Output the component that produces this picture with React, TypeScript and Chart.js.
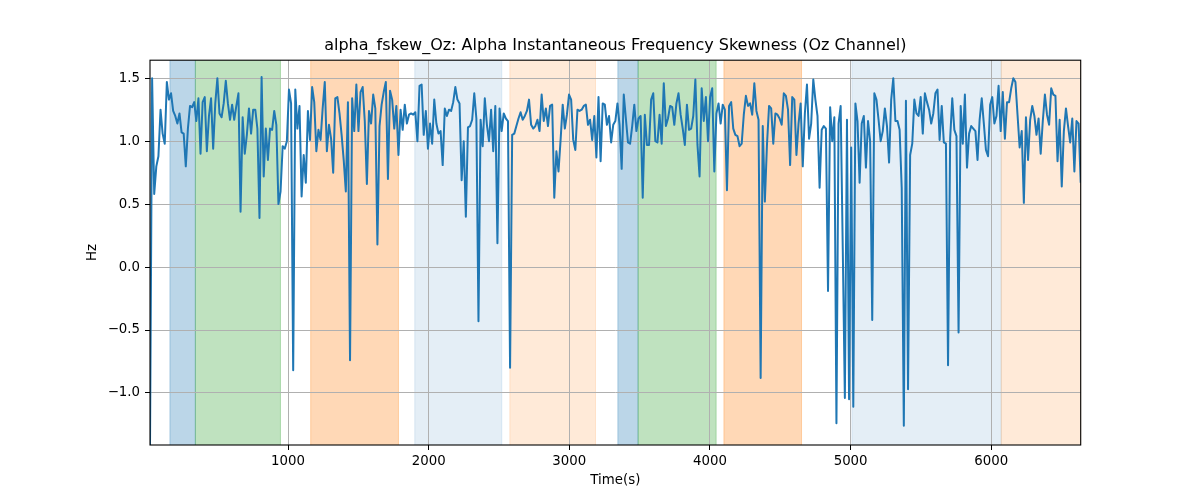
import React, { useEffect, useRef } from 'react';
import { Chart, registerables } from 'chart.js';

Chart.register(...registerables);

const TITLE = 'alpha_fskew_Oz: Alpha Instantaneous Frequency Skewness (Oz Channel)';
const X_LABEL = 'Time(s)';
const Y_LABEL = 'Hz';

// Regularly sampled series: first and last sample times
const T_START = 18.5;
const T_END = 6636;

const VALUES = [
  -1.45, 1.5, 0.58, 0.8, 0.88, 1.25, 1.06, 0.98, 1.47, 1.33,
  1.38, 1.24, 1.2, 1.14, 1.22, 1.07, 1.06, 0.8, 1.1, 1.28,
  1.27, 1.31, 1.16, 1.34, 0.9, 1.31, 1.35, 0.92, 1.2, 1.34,
  0.94, 1.3, 1.5, 1.22, 1.19, 1.3, 1.48, 1.3, 1.17, 1.29,
  1.17, 1.28, 1.38, 0.44, 1.19, 0.9, 1.05, 1.26, 1.06, 1.25,
  1.25, 1.1, 0.39, 1.51, 0.72, 1.1, 0.85, 1.1, 1.09, 1.24,
  1.13, 0.5, 0.6, 0.96, 0.94, 1.0, 1.41, 1.3, -0.82, 1.41,
  1.1, 1.28,
  0.56, 0.89, 0.67, 1.24, 1.01, 1.43, 1.31, 0.92, 1.09, 1.01,
  1.26, 1.47, 0.92, 1.13, 1.02, 0.75, 1.34, 1.35,
  1.22, 1.05, 0.85, 0.6, 1.31, -0.74, 1.34, 1.08, 1.45, 1.08,
  1.39, 1.43, 1.16, 0.66, 1.24, 1.14, 1.37, 1.26, 0.18, 1.12,
  1.29, 1.39, 1.47, 0.7, 1.4, 1.33, 1.1, 1.28, 0.89, 1.25,
  1.09, 1.29, 1.14, 1.21, 1.22, 1.21, 1.23, 1.0, 1.44, 1.45,
  1.05, 1.24, 0.94, 1.14, 0.98, 1.33, 1.14,
  1.06, 1.08, 0.81, 1.26, 1.2, 1.25, 1.24, 1.31, 1.43, 1.33,
  1.3, 0.69, 1.0, 0.4, 1.11, 1.12, 1.17, 1.38, 1.18, -0.43,
  1.17, 0.96, 1.34, 1.13, 1.0, 1.25, 0.92, 1.28, 0.19, 1.26,
  1.08, 1.22, 1.18, 1.16, -0.8, 1.05, 1.06, 1.12, 1.18, 1.23,
  1.17, 1.2, 1.24, 1.33, 1.13,
  1.1, 1.12, 1.17, 1.08, 1.37, 1.16, 1.26, 1.12, 1.28, 1.29,
  0.55, 0.92, 0.76, 1.01, 1.29, 1.1, 1.21, 1.37, 1.33, 1.01,
  0.93, 1.25, 1.24, 1.25, 1.28, 1.29, 1.13, 1.17, 1.01, 1.2,
  0.87, 1.35, 0.84, 1.3, 1.29, 1.13, 1.2, 0.99, 1.13, 1.16,
  1.3, 1.13, 0.78, 1.37, 1.18,
  0.99, 0.98, 1.12, 1.29, 1.08, 1.18, 1.2, 0.55, 1.21, 0.97,
  0.97, 1.33, 1.38, 1.0, 0.99, 1.21, 0.98, 1.46, 1.12, 1.18,
  1.28, 1.27, 1.13, 1.3, 1.38, 1.21, 1.1, 0.97, 1.29, 1.09,
  1.1, 1.2, 1.49, 0.97, 0.72, 1.42, 1.16, 1.35, 1.0, 1.35,
  1.42, 0.76, 1.22, 1.3, 1.14,
  1.29, 1.25, 0.61, 1.28, 1.31, 1.1, 1.05, 1.04, 0.96, 0.98,
  1.21, 1.36, 1.28, 1.3, 1.21, 1.46, 1.24, 1.17, -0.88, 1.12,
  0.52, 0.97, 1.28, 1.26, 0.98, 1.22, 1.21, 1.18, 1.13, 1.38,
  1.36, 1.25, 0.81, 1.35, 1.33, 0.89, 1.14, 1.3, 0.8, 1.22,
  1.45, 1.02, 1.14, 1.49, 1.33,
  1.2, 0.63, 1.09, 1.12, 1.1, -0.19, 1.27, 1.0, 1.19, -1.24,
  1.14, 1.28, 0.15, -1.04, 1.17, -1.05, 0.95, -1.11, 1.3, 1.16,
  0.67, 1.14, 1.2, 0.79, 1.16, 1.0, -0.42, 1.38, 1.33, 1.17,
  1.0, 1.08, 1.26, 1.12, 0.83, 1.33, 1.5, 1.16, 1.16, 1.09,
  0.63, -1.26, 1.32, -0.97, 0.89,
  0.98, 1.33, 1.22, 1.2, 1.35, 1.06, 1.38, 1.31, 1.25, 1.14,
  1.22, 1.38, 1.41, 1.01, 1.28, 0.99, 0.98, -0.78, 1.02, 1.34,
  1.09, 1.04, -0.52, 1.28, 0.98, 1.37, 0.79, 1.06, 1.12, 1.1,
  1.08, 0.85, 1.17, 1.34, 1.14, 0.93, 0.88, 1.29, 1.35, 1.14,
  1.2, 1.44, 1.08, 1.39, 1.02,
  1.31, 1.31, 1.42, 1.5, 1.47, 1.21, 0.95, 1.08, 0.51, 1.19,
  0.85, 1.17, 1.28, 1.2, 1.05, 1.18, 0.9, 1.16, 1.37, 1.21,
  1.13, 1.42, 1.37, 1.36, 0.84, 1.17, 0.64, 1.08, 1.26, 1.12,
  0.99, 1.18, 0.76, 1.16, 1.14, 0.67,
];

const X_TICKS = [1000, 2000, 3000, 4000, 5000, 6000];
const Y_TICKS = [-1.0, -0.5, 0.0, 0.5, 1.0, 1.5];
const Y_MIN = -1.413;
const Y_MAX = 1.643;

// Shaded intervals (seconds)
const SPAN_START = [160, 341, 1161, 1901, 2577, 3345, 3489, 4099, 5009, 6071];
const SPAN_END = [341, 946, 1785, 2520, 3186, 3489, 4044, 4651, 6071, 6636];
const SPAN_KIND = ['blue', 'green', 'orange', 'lightblue', 'lightorange', 'blue', 'green', 'orange', 'lightblue', 'lightorange'];

const SPAN_FILL: Record<string, string> = {
  blue: 'rgba(31,119,180,0.3)',
  green: 'rgba(44,160,44,0.3)',
  orange: 'rgba(255,127,14,0.3)',
  lightblue: 'rgba(31,119,180,0.12)',
  lightorange: 'rgba(255,127,14,0.16)',
};

const FONT = 'DejaVu Sans';

export default function App() {
  const ref = useRef<HTMLCanvasElement>(null);

  useEffect(() => {
    if (!ref.current) return;
    const step = (T_END - T_START) / (VALUES.length - 1);
    const points = VALUES.map((v, i) => ({ x: T_START + i * step, y: v }));

    const spanPlugin = {
      id: 'spans',
      beforeDraw(chart: any) {
        const { ctx, chartArea, scales } = chart;
        const top = chartArea.top;
        const h = chartArea.bottom - chartArea.top;
        ctx.save();
        for (let i = 0; i < SPAN_START.length; i++) {
          const x0 = Math.max(chartArea.left, scales.x.getPixelForValue(SPAN_START[i]));
          const x1 = Math.min(chartArea.right, scales.x.getPixelForValue(SPAN_END[i]));
          ctx.fillStyle = SPAN_FILL[SPAN_KIND[i]];
          ctx.fillRect(x0, top, x1 - x0, h);
          // edge lines like matplotlib's patch edges
          ctx.fillRect(x0 - 0.5, top, 1, h);
          ctx.fillRect(x1 - 0.5, top, 1, h);
        }
        ctx.restore();
      },
    };

    const framePlugin = {
      id: 'frame',
      afterDatasetsDraw(chart: any) {
        const { ctx, chartArea } = chart;
        ctx.save();
        ctx.strokeStyle = '#000';
        ctx.lineWidth = 1.1;
        ctx.strokeRect(chartArea.left, chartArea.top, chartArea.right - chartArea.left, chartArea.bottom - chartArea.top);
        ctx.restore();
      },
    };

    const chart = new Chart(ref.current, {
      type: 'line',
      data: {
        datasets: [
          {
            data: points,
            borderColor: '#1f77b4',
            borderWidth: 2,
            pointRadius: 0,
            fill: false,
            tension: 0,
            borderJoinStyle: 'round',
          },
        ],
      },
      options: {
        animation: false,
        responsive: false,
        devicePixelRatio: 1,
        parsing: false,
        normalized: true,
        layout: { padding: { left: 0, right: 119.3, top: 0, bottom: 0 } },
        plugins: {
          legend: { display: false },
          tooltip: { enabled: false },
          title: {
            display: true,
            fullSize: false,
            text: TITLE,
            color: '#000',
            font: { family: FONT, size: 16, weight: 'normal' },
            padding: { top: 36, bottom: 5 },
          },
        },
        scales: {
          x: {
            type: 'linear',
            position: 'bottom',
            min: T_START,
            max: T_END,
            afterBuildTicks: (axis: any) => {
              axis.ticks = X_TICKS.map((v) => ({ value: v }));
            },
            afterFit: (s: any) => {
              s.height = 55;
            },
            border: { display: false },
            grid: {
              color: '#b0b0b0',
              lineWidth: 1,
              tickLength: 5,
              tickColor: '#000',
              tickWidth: 1,
            },
            ticks: {
              color: '#000',
              font: { family: FONT, size: 13.33 },
              padding: 4,
              maxRotation: 0,
              autoSkip: false,
              callback: (v: any) => String(v),
            },
            title: {
              display: true,
              text: X_LABEL,
              color: '#000',
              font: { family: FONT, size: 13.33 },
              padding: { top: 0, bottom: 11 },
            },
          },
          y: {
            type: 'linear',
            min: Y_MIN,
            max: Y_MAX,
            afterBuildTicks: (axis: any) => {
              axis.ticks = Y_TICKS.map((v) => ({ value: v }));
            },
            afterFit: (s: any) => {
              s.width = 150;
            },
            border: { display: false },
            grid: {
              color: '#b0b0b0',
              lineWidth: 1,
              tickLength: 5,
              tickColor: '#000',
              tickWidth: 1,
            },
            ticks: {
              color: '#000',
              font: { family: FONT, size: 13.33 },
              padding: 5,
              autoSkip: false,
              callback: (v: any) => Number(v).toFixed(1).replace('-', '\u2212'),
            },
            title: {
              display: true,
              text: Y_LABEL,
              color: '#000',
              font: { family: FONT, size: 13.33 },
              padding: { top: 85, bottom: 0 },
            },
          },
        },
      },
      plugins: [spanPlugin, framePlugin],
    } as any);

    return () => chart.destroy();
  }, []);

  return (
    <div style={{ position: 'absolute', left: 0, top: 0, width: 1200, height: 500, background: '#fff' }}>
      <canvas ref={ref} width={1200} height={500} style={{ display: 'block' }} />
    </div>
  );
}
